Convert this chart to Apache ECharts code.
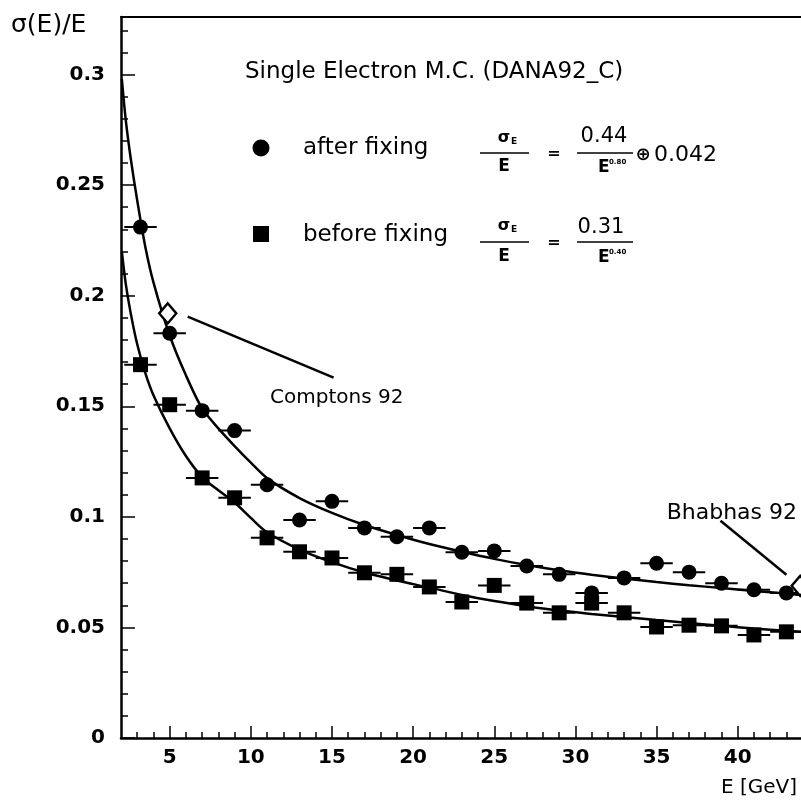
<!DOCTYPE html>
<html>
<head>
<meta charset="utf-8">
<script src="https://cdn.jsdelivr.net/npm/echarts@6/dist/echarts.min.js"></script>
<style>
  html, body { margin: 0; padding: 0; background: #fff; }
  #chart { width: 801px; height: 800px; }
</style>
</head>
<body>
<div id="chart"></div>
<script>
// bin centres (GeV) and sigma(E)/E
var energy = [3.2, 5, 7, 9, 11, 13, 15, 17, 19, 21, 23, 25, 27, 29, 31, 33, 35, 37, 39, 41, 43]
var afterFix = [0.231, 0.183, 0.148, 0.139, 0.1145, 0.0986, 0.107, 0.095, 0.091, 0.095, 0.084,
    0.0846, 0.0778, 0.074, 0.0656, 0.0724, 0.079, 0.075, 0.070, 0.067, 0.0656]
var beforeFix = [0.1688, 0.1507, 0.1176, 0.1086, 0.0905, 0.0842, 0.0814, 0.0747, 0.074, 0.0683, 0.0615,
    0.069, 0.061, 0.0566, 0.061, 0.0566, 0.0502, 0.051, 0.0507, 0.0466, 0.048]
var binHalfWidth = 1

// fitted curves, sampled by eye
var fitAfterX = [2.05, 2.3, 2.6, 3.0, 3.5, 4, 5, 6, 7, 8, 9, 10, 11, 13, 15, 17, 19,
    21, 23, 25, 27, 29, 31, 33, 35, 37, 39, 41, 43, 43.9]
var fitAfterY = [0.298, 0.279, 0.262, 0.243, 0.222, 0.206, 0.182, 0.164, 0.149,
    0.140, 0.132, 0.1245, 0.1175, 0.1085, 0.1018, 0.0963, 0.0918, 0.0877, 0.0842, 0.081, 0.0782, 0.0758,
    0.0738, 0.0721, 0.0705, 0.0691, 0.0678, 0.0665, 0.0653, 0.0647]
var fitBeforeX = [2.05, 2.3, 2.6, 3.0, 3.5, 4, 5, 6, 7, 8, 9, 10, 11, 13, 15, 17, 19,
    21, 23, 25, 27, 29, 31, 33, 35, 37, 39, 41, 43, 43.9]
var fitBeforeY = [0.220, 0.205, 0.192, 0.178, 0.165, 0.155, 0.140, 0.1275, 0.118,
    0.112, 0.1065, 0.0995, 0.093, 0.0852, 0.0795, 0.0748, 0.0712, 0.068, 0.0647, 0.0619, 0.0596,
    0.0576, 0.0561, 0.0547, 0.0533, 0.052, 0.0507, 0.0495, 0.0485, 0.048]

var comptons = [[4.88, 0.192]]
var bhabhas = [[43.85, 0.0688]]

var xMajor = [5, 10, 15, 20, 25, 30, 35, 40]
var xMinor = [3, 4, 5, 6, 7, 8, 9, 10, 11, 12, 13, 14, 15, 16, 17, 18, 19, 20, 21, 22, 23,
    24, 25, 26, 27, 28, 29, 30, 31, 32, 33, 34, 35, 36, 37, 38, 39, 40, 41, 42, 43]
var yMajor = [0, 0.05, 0.1, 0.15, 0.2, 0.25, 0.3]
var yMinor = [0.01, 0.02, 0.03, 0.04, 0.06, 0.07, 0.08, 0.09, 0.11, 0.12, 0.13, 0.14, 0.16, 0.17,
    0.18, 0.19, 0.21, 0.22, 0.23, 0.24, 0.26, 0.27, 0.28, 0.29, 0.31, 0.32]

var X_MIN = 2, X_MAX = 43.9, Y_MIN = 0, Y_MAX = 0.326
var txtFont = '"DejaVu Sans", sans-serif'
var numFont = '"DejaVu Sans", sans-serif'

function zip(xs, ys) {
    return xs.map(function(x, i) { return [x, ys[i]] })
}

function errorBar(params, api) {
    var x = api.value(0)
    var y = api.value(1)
    var p1 = api.coord([x - binHalfWidth, y])
    var p2 = api.coord([x + binHalfWidth, y])
    return {
        type: 'line',
        shape: { x1: p1[0], y1: p1[1], x2: p2[0], y2: p2[1] },
        style: { stroke: '#000', lineWidth: 2 }
    }
}

function text(x, y, str, size, opts) {
    opts = opts || {}
    return {
        type: 'text',
        x: x,
        y: y,
        style: {
            text: str,
            font: (opts.bold ? 'bold ' : '') + size + 'px ' + (opts.family || txtFont),
            fill: '#000',
            align: opts.align || 'left',
            verticalAlign: 'middle'
        }
    }
}

function hline(x1, x2, y) {
    return { type: 'line', shape: { x1: x1, y1: y, x2: x2, y2: y }, style: { stroke: '#000', lineWidth: 1.5 } }
}

var chart = echarts.init(document.getElementById('chart'))

var options = {
    animation: false,
    backgroundColor: '#fff',
    grid: { left: 121, right: 0, top: 17, bottom: 62 },
    xAxis: [{
        type: 'value', min: X_MIN, max: X_MAX, position: 'bottom',
        splitLine: { show: false },
        axisLine: { show: true, lineStyle: { color: '#000', width: 2.5 } },
        axisTick: { show: true, inside: true, length: 12, customValues: xMajor, lineStyle: { color: '#000', width: 1.5 } },
        axisLabel: { customValues: xMajor, margin: 10, color: '#000', fontSize: 20, fontWeight: 'bold', fontFamily: numFont }
    }, {
        type: 'value', min: X_MIN, max: X_MAX, position: 'bottom',
        splitLine: { show: false },
        axisLine: { show: false },
        axisTick: { show: true, inside: true, length: 6, customValues: xMinor, lineStyle: { color: '#000', width: 1.5 } },
        axisLabel: { show: false }
    }, {
        type: 'value', min: X_MIN, max: X_MAX, position: 'top',
        splitLine: { show: false },
        axisLine: { show: true, lineStyle: { color: '#000', width: 2 } },
        axisTick: { show: false },
        axisLabel: { show: false }
    }],
    yAxis: [{
        type: 'value', min: Y_MIN, max: Y_MAX, position: 'left',
        splitLine: { show: false },
        axisLine: { show: true, lineStyle: { color: '#000', width: 2.5 } },
        axisTick: { show: true, inside: true, length: 14, customValues: yMajor, lineStyle: { color: '#000', width: 1.5 } },
        axisLabel: { customValues: yMajor, margin: 16, color: '#000', fontSize: 20, fontWeight: 'bold', fontFamily: numFont }
    }, {
        type: 'value', min: Y_MIN, max: Y_MAX, position: 'left',
        splitLine: { show: false },
        axisLine: { show: false },
        axisTick: { show: true, inside: true, length: 7, customValues: yMinor, lineStyle: { color: '#000', width: 1.5 } },
        axisLabel: { show: false }
    }],
    series: [{
        name: 'fit after', type: 'line', data: zip(fitAfterX, fitAfterY),
        showSymbol: false, smooth: 0.3,
        lineStyle: { color: '#000', width: 2.5 }, z: 2
    }, {
        name: 'fit before', type: 'line', data: zip(fitBeforeX, fitBeforeY),
        showSymbol: false, smooth: 0.3,
        lineStyle: { color: '#000', width: 2.5 }, z: 2
    }, {
        name: 'err after', type: 'custom', renderItem: errorBar, data: zip(energy, afterFix), z: 3
    }, {
        name: 'err before', type: 'custom', renderItem: errorBar, data: zip(energy, beforeFix), z: 3
    }, {
        name: 'after fixing', type: 'scatter', data: zip(energy, afterFix),
        symbol: 'circle', symbolSize: 15, itemStyle: { color: '#000', opacity: 1 }, z: 4
    }, {
        name: 'before fixing', type: 'scatter', data: zip(energy, beforeFix),
        symbol: 'rect', symbolSize: 15, itemStyle: { color: '#000', opacity: 1 }, z: 4
    }, {
        name: 'Comptons 92', type: 'scatter', data: comptons,
        symbol: 'diamond', symbolSize: [17, 20], z: 5,
        itemStyle: { color: '#fff', borderColor: '#000', borderWidth: 2.5, opacity: 1 },
        markLine: {
            silent: true, symbol: ['none', 'none'], label: { show: false },
            lineStyle: { color: '#000', width: 2.5, type: 'solid', opacity: 1 },
            data: [[{ coord: [6.11, 0.1905] }, { coord: [15.1, 0.1629] }]]
        }
    }, {
        name: 'Bhabhas 92', type: 'scatter', data: bhabhas, clip: false,
        symbol: 'diamond', symbolSize: [17, 20], z: 5,
        itemStyle: { color: '#fff', borderColor: '#000', borderWidth: 2.5, opacity: 1 },
        markLine: {
            silent: true, symbol: ['none', 'none'], label: { show: false },
            lineStyle: { color: '#000', width: 2.5, type: 'solid', opacity: 1 },
            data: [[{ coord: [38.94, 0.0982] }, { coord: [43.0, 0.0738] }]]
        }
    }],
    graphic: [
        text(11, 25, 'σ(E)/E', 25),
        text(797, 788, 'E [GeV]', 20, { align: 'right' }),
        text(245, 72, 'Single Electron M.C. (DANA92_C)', 23),
        { type: 'circle', shape: { cx: 261, cy: 148, r: 8.5 }, style: { fill: '#000' } },
        { type: 'rect', shape: { x: 253, y: 226, width: 16, height: 16 }, style: { fill: '#000' } },
        text(303, 148, 'after fixing', 23),
        text(303, 235, 'before fixing', 23),
        // first formula
        text(504, 138, 'σ', 16, { align: 'center', bold: true }),
        text(511, 142, 'E', 9, { bold: true }),
        hline(480, 529, 153),
        text(504, 167, 'E', 17, { align: 'center', bold: true }),
        text(554, 154, '=', 16, { align: 'center', bold: true }),
        text(604, 137, '0.44', 21, { align: 'center' }),
        hline(577, 633, 153),
        text(598, 168, 'E', 17, { bold: true }),
        text(609, 162, '0.80', 7, { bold: true }),
        text(643, 155, '⊕', 18, { align: 'center', bold: true }),
        text(654, 155, '0.042', 22),
        // second formula
        text(504, 226, 'σ', 16, { align: 'center', bold: true }),
        text(511, 230, 'E', 9, { bold: true }),
        hline(480, 529, 242),
        text(504, 257, 'E', 17, { align: 'center', bold: true }),
        text(554, 243, '=', 16, { align: 'center', bold: true }),
        text(601, 228, '0.31', 21, { align: 'center' }),
        hline(577, 633, 242),
        text(598, 258, 'E', 17, { bold: true }),
        text(609, 252, '0.40', 7, { bold: true }),
        text(270, 398, 'Comptons 92', 20),
        text(797, 513, 'Bhabhas 92', 22, { align: 'right' })
    ]
}

chart.setOption(options)
</script>
</body>
</html>
